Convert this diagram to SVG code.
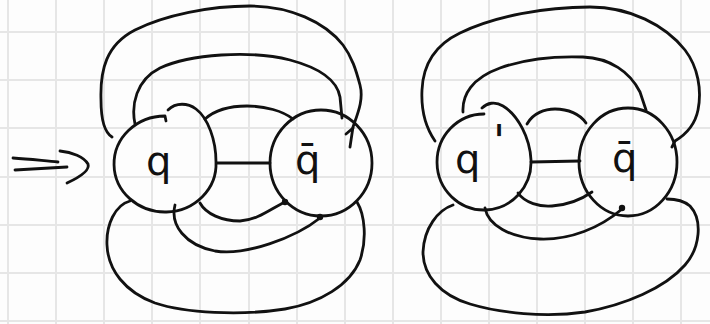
<svg xmlns="http://www.w3.org/2000/svg" width="710" height="324" viewBox="0 0 710 324">
<defs>
<style>
.grid{stroke:#e6e6e6;stroke-width:2;fill:none}
.ink{stroke:#111;stroke-width:2.8;fill:none;stroke-linecap:round;stroke-linejoin:round}
.dot{fill:#111}
.lbl{font-family:"DejaVu Sans","Liberation Sans",sans-serif;font-size:40px;fill:#111}
</style>
</defs>
<rect width="710" height="324" fill="#fdfdfd"/>
<g id="grid" class="grid">
<path d="M8,0V324M56,0V324M104,0V324M152,0V324M200,0V324M249,0V324M297,0V324M345,0V324M393,0V324M441,0V324M489,0V324M537,0V324M585,0V324M633,0V324M681,0V324"/>
<path d="M0,32H710M0,80H710M0,128H710M0,177H710M0,225H710M0,273H710M0,321H710"/>
</g>
<g id="implies" class="ink">
<path d="M13,158 C30,159 45,161 58,162"/>
<path d="M15,170 C35,169 52,168 67,167"/>
<path d="M60,151 C72,152 84,157 88,164 C90,170 80,177 67,183"/>
</g>
<g id="connectors" class="ink">
<path d="M217,163 L270,163"/>
<path d="M205,119 C215,110 230,106 247,106 C265,106 283,111 293,119"/>
<path d="M200,203 C206,214 222,221 240,221 C258,220 272,208 285,202"/>
<path d="M175,205 C170,225 185,245 215,251 C245,256 295,238 320,218"/>
<path d="M135,124 C131,105 136,80 160,68 C190,54 250,50 290,60 C320,68 337,80 340,97 L342,118"/>
<path d="M112,137 C104,132 101,120 101,100 C100,70 106,45 135,30 C165,15 210,6 250,6 C290,6 325,22 343,45 C352,57 356,70 360,85 C364,100 357,115 353,127 L350,147"/>
<path d="M346,134 L353,128"/>
<path d="M130,201 C115,205 106,225 107,245 C108,270 125,292 155,303 C185,313 240,316 285,309 C320,303 350,285 360,260 C367,240 365,215 357,202"/>
<path d="M531,162 L580,161"/>
<path d="M527,124 C533,113 545,109 555,109 C568,109 580,114 586,123"/>
<path d="M518,193 C525,203 540,207 552,206 C568,205 582,199 592,192"/>
<path d="M485,208 C488,225 510,238 540,239 C570,240 600,228 622,209"/>
<path d="M463,112 C462,95 472,78 500,68 C525,59 555,56 583,57 C610,58 630,72 640,92 L646,110"/>
<path d="M435,141 C426,128 421,110 422,90 C423,65 435,45 460,33 C495,16 545,7 590,7 C630,7 665,25 685,50 C698,67 702,90 698,110 C695,125 685,135 675,141 L672,147"/>
<path d="M453,205 C438,210 424,228 423,252 C423,275 440,295 470,304 C500,313 545,318 585,312 C625,305 665,288 685,265 C700,248 703,220 690,206 C683,200 675,199 667,199"/>
<circle class="dot" cx="285" cy="202" r="3.2" stroke="none"/>
<circle class="dot" cx="320" cy="217" r="3.2" stroke="none"/>
<circle class="dot" cx="622" cy="208" r="3.2" stroke="none"/>
</g>
<g id="node-q">
<path class="ink" d="M166,121 L165,116 A51,48 0 1 0 216,162 C216,140 208,118 196,109 C188,103 176,102 168,110"/>
<text class="lbl" x="146" y="175">q</text>
</g>
<g id="node-qbar-left">
<ellipse class="ink" cx="321" cy="163" rx="51" ry="53"/>
<text class="lbl" x="295" y="174">q̄</text>
</g>
<g id="node-qprime">
<path class="ink" d="M484,114 A47,48 0 1 0 531,160 C530,138 518,115 503,106 C495,101 487,103 482,108"/>
<text class="lbl" x="455" y="173">q<tspan x="493" y="157" font-size="44">'</tspan></text>
</g>
<g id="node-qbar-right">
<ellipse class="ink" cx="628" cy="162" rx="49" ry="54"/>
<text class="lbl" x="612" y="172">q̄</text>
</g>
</svg>
